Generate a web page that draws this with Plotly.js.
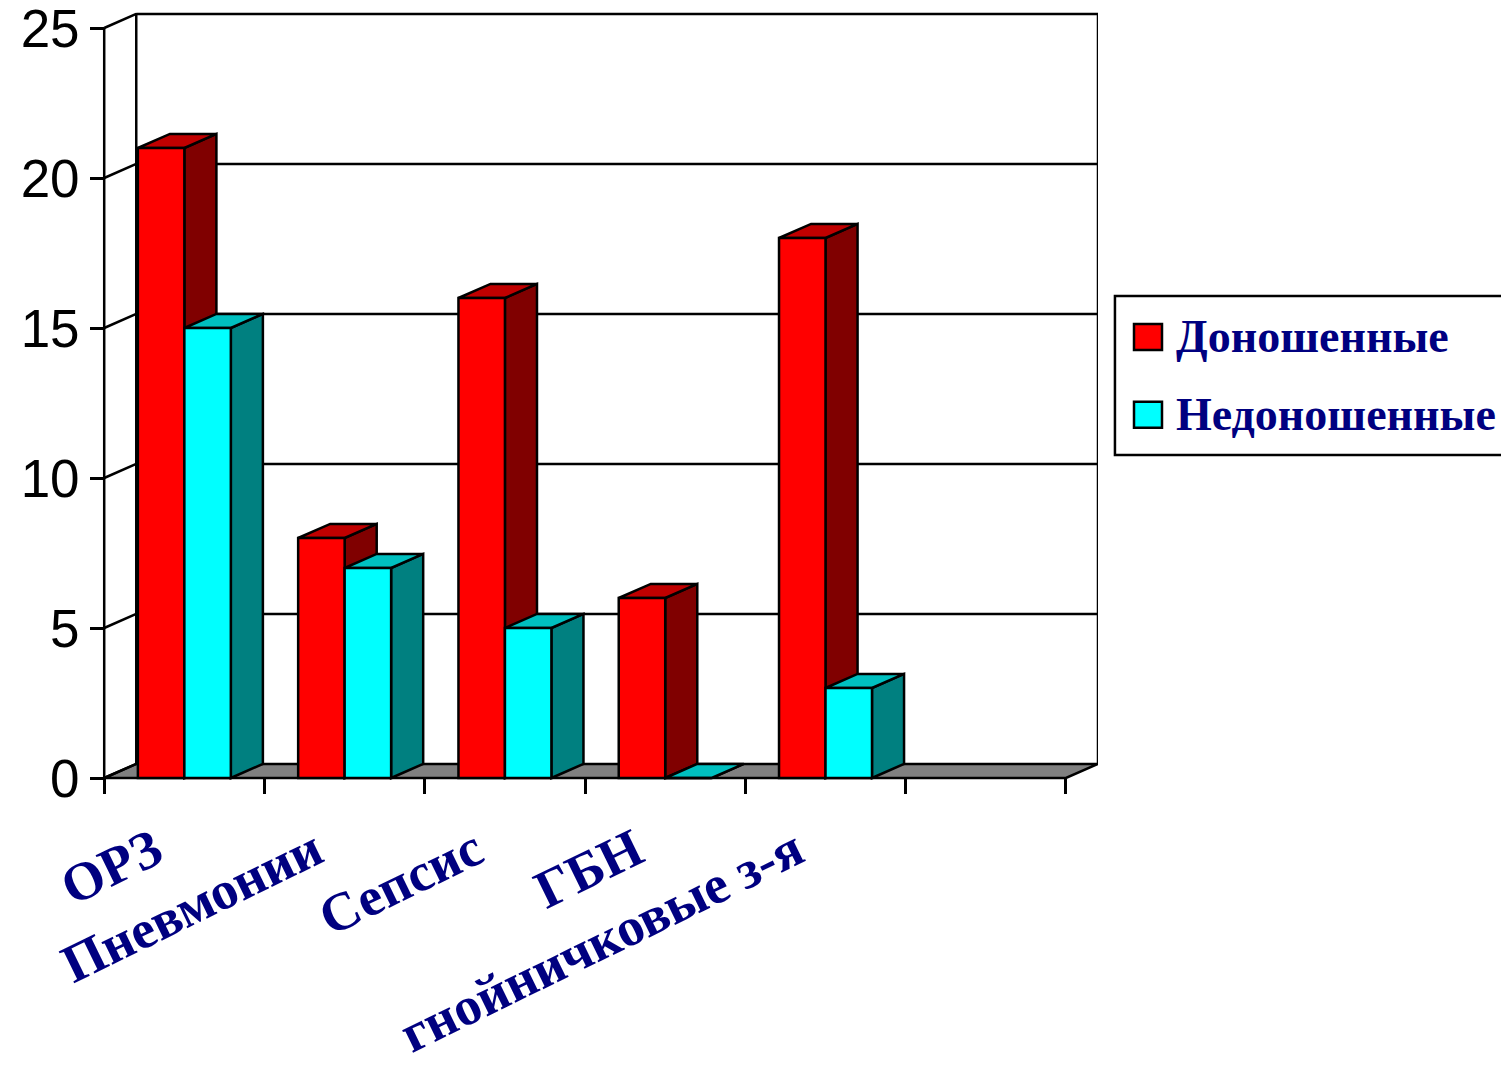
<!DOCTYPE html>
<html lang="ru">
<head>
<meta charset="utf-8">
<script src="https://cdn.plot.ly/plotly-3.0.1.min.js"></script>
<style>html,body{margin:0;padding:0;background:#fff;overflow:hidden}</style>
</head>
<body>
<div id="chart" style="width:1501px;height:1071px"></div>
<script>
// Заболеваемость доношенных и недоношенных детей
const categories = ['ОРЗ', 'Пневмонии', 'Сепсис', 'ГБН', 'гнойничковые з-я'];
const fullTerm = [21, 8, 16, 6, 18];
const preterm = [15, 7, 5, 0, 3];
const yTicks = [0, 5, 10, 15, 20, 25];

// Depth of the pseudo-3D box in axis units
const DX = 0.2, DY = 0.47;
const CATS = 6, YMAX = 25;
const GROUP = 0.58, BAR = GROUP / 2;

const NAVY = '#000080';
const lineStyle = {color: '#000', width: 2.5};

function poly(pts, fill) {
  const path = pts.map((p, i) => (i ? 'L' : 'M') + p[0] + ',' + p[1]).join(' ') + ' Z';
  return {type: 'path', path, xref: 'x', yref: 'y', layer: 'below', fillcolor: fill, line: lineStyle};
}
function seg(x0, y0, x1, y1) {
  return {type: 'line', xref: 'x', yref: 'y', x0, y0, x1, y1, layer: 'below', line: lineStyle};
}

// Walls, floor and grid
const shapes = [];
shapes.push(poly([[0, 0], [DX, DY], [CATS + DX, DY], [CATS, 0]], '#808080'));
shapes.push(seg(0, 0, 0, YMAX));
shapes.push(seg(DX, DY, DX, YMAX + DY + 0.03));
shapes.push(seg(CATS + DX, DY, CATS + DX, YMAX + DY + 0.03));
yTicks.forEach(v => {
  shapes.push(seg(0, v, DX, v + DY));
  if (v > 0) shapes.push(seg(DX, v + DY, CATS + DX, v + DY));
});

// Side and top faces sit behind the front faces drawn by the bar traces
function faces(left, value, side, top) {
  const right = left + BAR;
  shapes.push(poly([[right, 0], [right + DX, DY], [right + DX, value + DY], [right, value]], side));
  shapes.push(poly([[left, value], [left + DX, value + DY], [right + DX, value + DY], [right, value]], top));
}
categories.forEach((_, i) => {
  const start = i + (1 - GROUP) / 2;
  faces(start, fullTerm[i], '#800000', '#c00000');
  faces(start + BAR, preterm[i], '#008080', '#00c0c0');
});

// Legend frame, running to the right edge of the page
shapes.push({type: 'rect', xref: 'paper', yref: 'paper', layer: 'below',
  x0: 1.017, x1: 1.41, y0: (781 - 455) / 771, y1: (781 - 296) / 771,
  fillcolor: '#fff', line: {color: '#000', width: 2.5}});

const centers = categories.map((_, i) => i + 0.5);
const barLine = {color: '#000', width: 2.5};

const traces = [
  {type: 'bar', name: 'Доношенные', x: centers, y: fullTerm, legendgroup: 'a',
   marker: {color: '#ff0000', line: barLine}, cliponaxis: false, hoverinfo: 'x+y'},
  {type: 'bar', name: 'Недоношенные', x: centers, y: preterm, legendgroup: 'b',
   marker: {color: '#00ffff', line: barLine}, cliponaxis: false, hoverinfo: 'x+y'}
];

const layout = {
  width: 1501, height: 1071,
  margin: {l: 101, r: 403, t: 10, b: 290, pad: 0},
  paper_bgcolor: '#fff', plot_bgcolor: '#fff',
  barmode: 'group', bargap: 1 - GROUP, bargroupgap: 0,
  shapes,
  font: {family: '"Liberation Serif", serif', color: NAVY},
  xaxis: {
    range: [-0.02, 6.2], anchor: 'free', position: 0.1 / 25.7,
    showgrid: false, zeroline: false, showline: false,
    tickmode: 'array', tickvals: centers, ticktext: categories,
    ticks: '', tickangle: -26, ticklabelstandoff: 30, ticklabelshift: -30,
    ticklabeloverflow: 'allow',
    tickfont: {family: '"Liberation Serif", serif', size: 54, color: NAVY, weight: 'bold'},
    minor: {tickmode: 'linear', tick0: 0, dtick: 1, ticks: 'outside', ticklen: 15, tickwidth: 2.5, tickcolor: '#000', showgrid: false}
  },
  yaxis: {
    range: [-0.1, 25.6], anchor: 'free', position: 0.02 / 6.22,
    showgrid: false, zeroline: false, showline: false,
    tickmode: 'array', tickvals: yTicks, ticklabeloverflow: 'allow',
    ticks: 'outside', ticklen: 14, tickwidth: 2.5, tickcolor: '#000',
    tickfont: {family: '"Liberation Sans", Arial, sans-serif', size: 53, color: '#000'}
  },
  showlegend: true,
  legend: {
    xref: 'container', yref: 'container',
    x: 1116 / 1501, y: 1 - 297.5 / 1071, xanchor: 'left', yanchor: 'top',
    bgcolor: 'rgba(0,0,0,0)', borderwidth: 0,
    traceorder: 'grouped', tracegroupgap: 15, itemwidth: 50, itemclick: false, itemdoubleclick: false,
    font: {family: '"Liberation Serif", serif', size: 46, color: NAVY, weight: 'bold'}
  }
};

Plotly.newPlot('chart', traces, layout, {displayModeBar: false, responsive: false}).then(gd => {
  // Larger legend swatches
  gd.querySelectorAll('.legendpoints path').forEach(p => p.setAttribute('d', 'M16,16H-12V-10H16Z'));
});
</script>
</body>
</html>
